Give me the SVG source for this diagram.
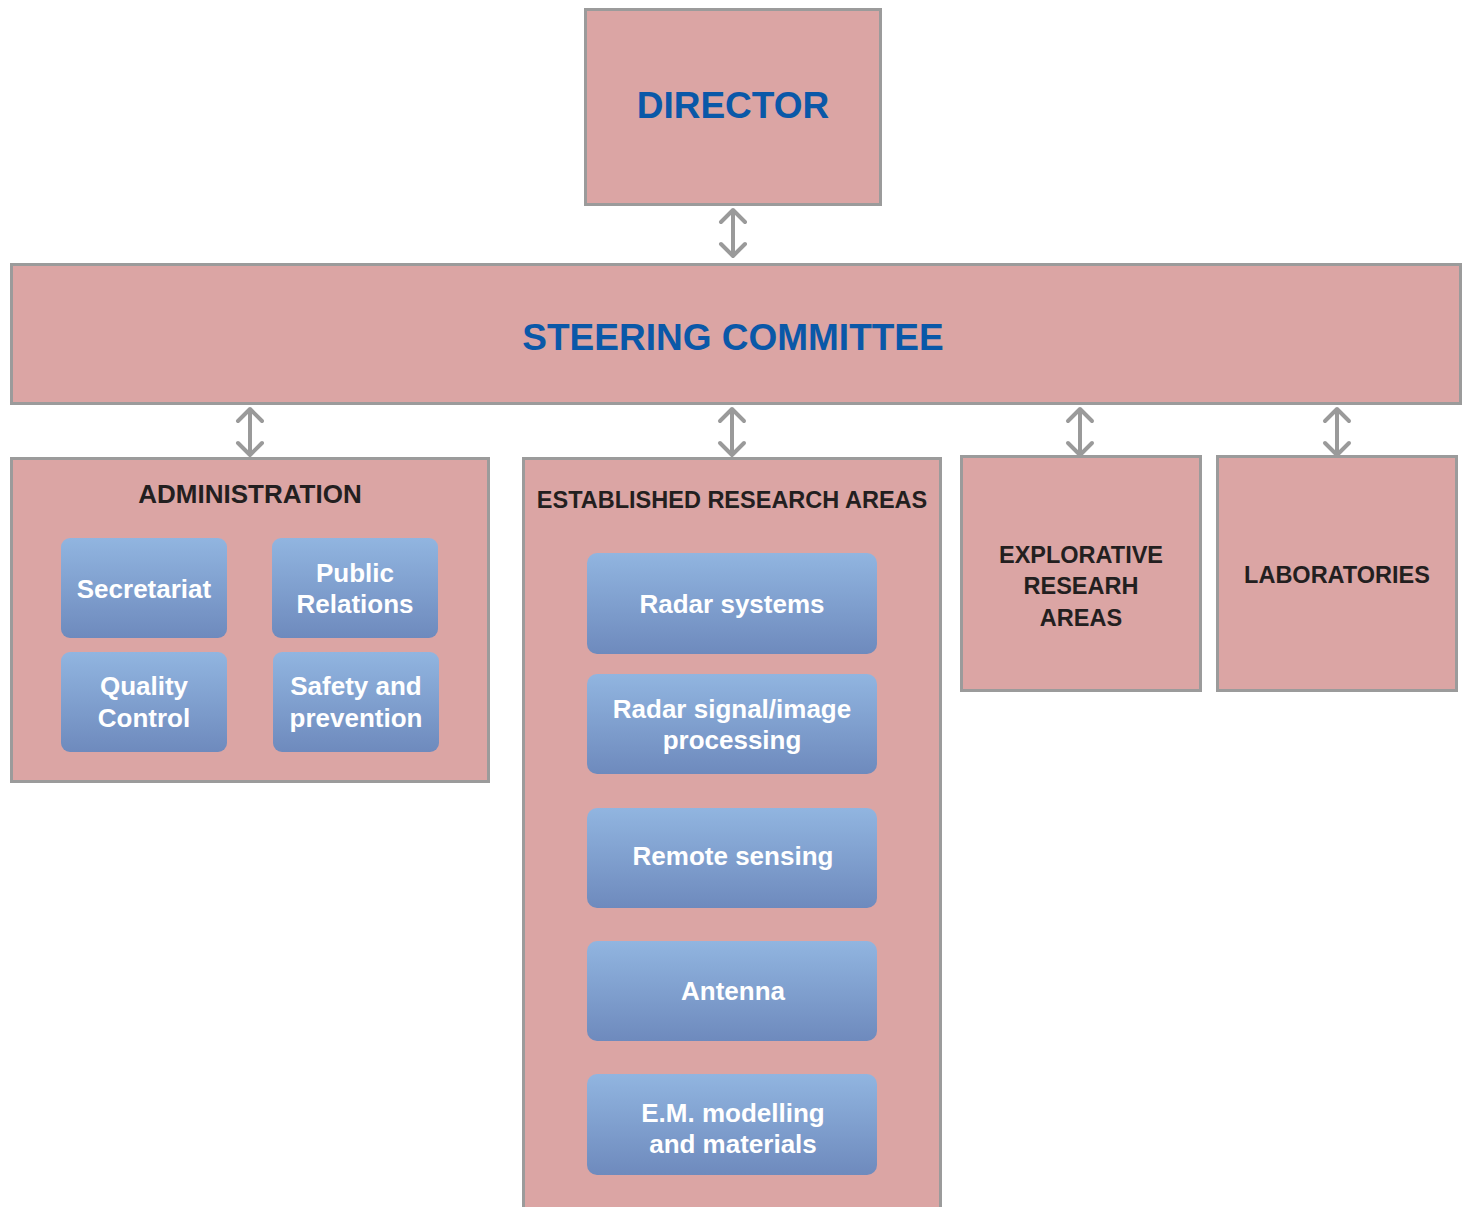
<svg xmlns="http://www.w3.org/2000/svg" width="1466" height="1207" viewBox="0 0 1466 1207">
<defs>
<linearGradient id="blue" x1="0" y1="0" x2="0" y2="1">
<stop offset="0" stop-color="#91b5e0"/>
<stop offset="1" stop-color="#6e8abd"/>
</linearGradient>
<style>
.box{fill:#dba5a4;stroke:#9b9b9b;stroke-width:3}
.sub{fill:url(#blue)}
.t{font-family:"Liberation Sans",Arial,sans-serif;font-weight:bold;text-anchor:middle}
.big{fill:#0a58a8;font-size:37px}
.hd{fill:#231f20;font-size:23.5px}
.w{fill:#ffffff;font-size:26px}
.arr{fill:none;stroke:#9a9a9a;stroke-width:4;stroke-linecap:round;stroke-linejoin:round}
</style>
</defs>
<rect width="1466" height="1207" fill="#ffffff"/>
<g id="connectors">
<path class="arr" d="M733 210V256M721 222L733 210L745 222M721 244L733 256L745 244"/>
<path class="arr" d="M250 409V455M238 421L250 409L262 421M238 443L250 455L262 443"/>
<path class="arr" d="M732 409V455M720 421L732 409L744 421M720 443L732 455L744 443"/>
<path class="arr" d="M1080 409V455M1068 421L1080 409L1092 421M1068 443L1080 455L1092 443"/>
<path class="arr" d="M1337 409V455M1325 421L1337 409L1349 421M1325 443L1337 455L1349 443"/>
</g>
<g id="director">
<rect class="box" x="585.5" y="9.5" width="295" height="195"/>
<text class="t big" x="733" y="118">DIRECTOR</text>
</g>
<g id="steering">
<rect class="box" x="11.5" y="264.5" width="1449" height="139"/>
<text class="t big" x="733" y="350">STEERING COMMITTEE</text>
</g>
<g id="administration">
<rect class="box" x="11.5" y="458.5" width="477" height="323"/>
<text class="t hd" x="250" y="503" style="font-size:26px">ADMINISTRATION</text>
</g>
<g id="secretariat">
<rect class="sub" x="61" y="538" width="166" height="100" rx="9"/>
<text class="t w" x="144" y="598">Secretariat</text>
</g>
<g id="public-relations">
<rect class="sub" x="272" y="538" width="166" height="100" rx="9"/>
<text class="t w" x="355" y="582">Public</text>
<text class="t w" x="355" y="613">Relations</text>
</g>
<g id="quality-control">
<rect class="sub" x="61" y="652" width="166" height="100" rx="9"/>
<text class="t w" x="144" y="695">Quality</text>
<text class="t w" x="144" y="727">Control</text>
</g>
<g id="safety">
<rect class="sub" x="273" y="652" width="166" height="100" rx="9"/>
<text class="t w" x="356" y="695">Safety and</text>
<text class="t w" x="356" y="727">prevention</text>
</g>
<g id="established">
<rect class="box" x="523.5" y="458.5" width="417" height="760"/>
<text class="t hd" x="732" y="508">ESTABLISHED RESEARCH AREAS</text>
</g>
<g id="radar-systems">
<rect class="sub" x="587" y="553" width="290" height="101" rx="10"/>
<text class="t w" x="732" y="613">Radar systems</text>
</g>
<g id="radar-signal">
<rect class="sub" x="587" y="674" width="290" height="100" rx="10"/>
<text class="t w" x="732" y="718">Radar signal/image</text>
<text class="t w" x="732" y="749">processing</text>
</g>
<g id="remote-sensing">
<rect class="sub" x="587" y="808" width="290" height="100" rx="10"/>
<text class="t w" x="733" y="865">Remote sensing</text>
</g>
<g id="antenna">
<rect class="sub" x="587" y="941" width="290" height="100" rx="10"/>
<text class="t w" x="733" y="1000">Antenna</text>
</g>
<g id="em-modelling">
<rect class="sub" x="587" y="1074" width="290" height="101" rx="10"/>
<text class="t w" x="733" y="1122">E.M. modelling</text>
<text class="t w" x="733" y="1153">and materials</text>
</g>
<g id="explorative">
<rect class="box" x="961.5" y="456.5" width="239" height="234"/>
<text class="t hd" x="1081" y="563">EXPLORATIVE</text>
<text class="t hd" x="1081" y="594">RESEARH</text>
<text class="t hd" x="1081" y="626">AREAS</text>
</g>
<g id="laboratories">
<rect class="box" x="1217.5" y="456.5" width="239" height="234"/>
<text class="t hd" x="1337" y="583">LABORATORIES</text>
</g>
</svg>
